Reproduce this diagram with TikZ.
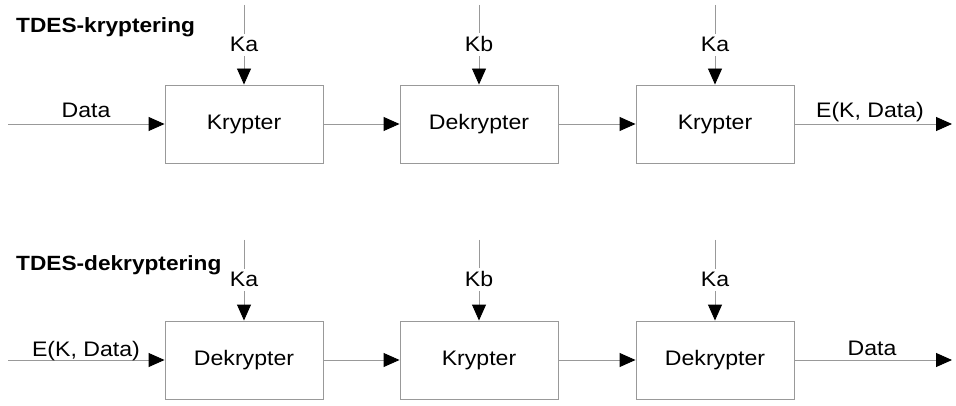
\documentclass[tikz,border=0pt]{standalone}
\usepackage{fontspec}
\setmainfont{Liberation Sans}[FakeStretch=1.1]
\usetikzlibrary{arrows.meta}
\begin{document}
\begin{tikzpicture}[x=1pt,y=-1pt,
  box/.style={draw=black!40, line width=0.9pt, minimum width=158pt, minimum height=78pt, inner sep=0pt, font=\fontsize{21}{24}\selectfont},
  conn/.style={draw=black!40, line width=0.9pt, -{Triangle[length=16pt,width=14pt,color=black]}},
  lbl/.style={font=\fontsize{21}{24}\selectfont, inner sep=0pt, anchor=base},
  keylbl/.style={lbl, fill=white, inner sep=4pt},
  ttl/.style={font=\fontsize{20.6}{24}\selectfont\bfseries, anchor=base west, inner sep=0pt}]
\useasboundingbox (0,0) rectangle (956,406);
% titles
\node[ttl] (t1) at (16,33) {TDES-kryptering};
\node[ttl] (t2) at (16,270) {TDES-dekryptering};
% boxes
\node[box] (a1) at (244,124) {Krypter};
\node[box] (a2) at (479,124) {Dekrypter};
\node[box] (a3) at (715,124) {Krypter};
\node[box] (b1) at (244,360) {Dekrypter};
\node[box] (b2) at (479,360) {Krypter};
\node[box] (b3) at (715,360) {Dekrypter};
% free ends
\coordinate (ain) at (8,124);
\coordinate (aout) at (952,124);
\coordinate (bin) at (8,360);
\coordinate (bout) at (952,360);
\coordinate (ka1) at (244,5);
\coordinate (ka2) at (479,5);
\coordinate (ka3) at (715,5);
\coordinate (kb1) at (244,240);
\coordinate (kb2) at (479,240);
\coordinate (kb3) at (715,240);
% data connectors
\draw[conn] (ain) -- (a1);
\draw[conn] (a1) -- (a2);
\draw[conn] (a2) -- (a3);
\draw[conn] (a3) -- (aout);
\draw[conn] (bin) -- (b1);
\draw[conn] (b1) -- (b2);
\draw[conn] (b2) -- (b3);
\draw[conn] (b3) -- (bout);
% key connectors
\draw[conn] (ka1) -- (a1);
\draw[conn] (ka2) -- (a2);
\draw[conn] (ka3) -- (a3);
\draw[conn] (kb1) -- (b1);
\draw[conn] (kb2) -- (b2);
\draw[conn] (kb3) -- (b3);
% key labels
\node[keylbl] (la1) at (244,52) {Ka};
\node[keylbl] (la2) at (479,52) {Kb};
\node[keylbl] (la3) at (715,52) {Ka};
\node[keylbl] (lb1) at (244,287) {Ka};
\node[keylbl] (lb2) at (479,287) {Kb};
\node[keylbl] (lb3) at (715,287) {Ka};
% data labels
\node[lbl] (d1) at (86,118) {Data};
\node[lbl] (e1) at (870,118) {E(K, Data)};
\node[lbl] (e2) at (86,356) {E(K, Data)};
\node[lbl] (d2) at (872,355) {Data};
\end{tikzpicture}
\end{document}
